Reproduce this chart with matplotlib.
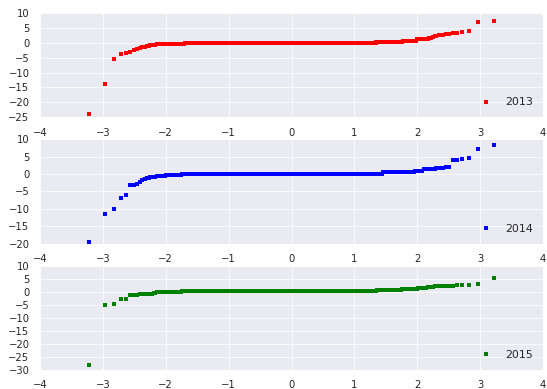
import matplotlib
matplotlib.use('Agg')
import matplotlib.pyplot as plt
from matplotlib.ticker import MultipleLocator
import seaborn as sns
import numpy as np
from statistics import NormalDist

# sorted sample values per year, given as (value, count) runs
runs_2013 = [(-24.0, 1), (-14.0, 1), (-5.6, 1), (-3.9, 1), (-3.6, 1), (-3.2, 1), (-2.5, 1),
             (-2.1, 1), (-1.9, 1), (-1.6, 1), (-1.3, 1), (-1.1, 1), (-1.0, 1), (-0.9, 1), (-0.8, 1),
             (-0.7, 2), (-0.6, 2), (-0.5, 6), (-0.3, 24), (0.0, 953), (0.2, 55), (0.7, 17),
             (1.1, 10), (1.4, 1), (1.7, 1), (1.9, 1), (2.1, 1), (2.3, 1),
             (2.5, 1), (2.6, 1), (2.7, 1), (2.8, 2),
             (3.3, 2), (3.7, 1), (4.0, 1), (6.9, 1), (7.2, 1)]

runs_2014 = [(-19.5, 1), (-11.6, 1), (-10.2, 1), (-6.8, 1), (-5.9, 1), (-3.3, 1), (-3.1, 1), (-2.8, 1),
             (-2.3, 1), (-1.8, 1), (-1.3, 1), (-1.2, 1), (-1.1, 1), (-1.0, 2), (-0.9, 2),
             (-0.6, 8), (-0.3, 19), (-0.1, 118), (0.1, 857), (0.5, 32), (0.7, 21), (1.0, 8),
             (1.4, 8), (1.8, 4), (2.1, 2),
             (3.9, 1), (4.1, 1), (4.3, 1), (4.6, 1), (7.1, 1), (8.3, 1)]

runs_2015 = [(-28.1, 1), (-5.0, 1), (-4.7, 1), (-2.8, 2),
             (-1.3, 3), (-0.8, 7), (-0.5, 2), (-0.2, 27), (0.1, 959), (0.5, 53), (1.0, 19),
             (1.5, 8), (1.8, 4), (2.3, 8),
             (2.4, 3), (2.8, 1), (5.3, 1)]

years = ['2013', '2014', '2015']
colors = ['r', 'b', 'g']
ylims = [(-25, 10), (-20, 10), (-30, 10)]


def expand(runs):
    return np.concatenate([np.full(c, v) for v, c in runs])


def theoretical_quantiles(n):
    # Filliben's order statistic medians, as used by scipy's probplot
    m = (np.arange(1, n + 1) - 0.3175) / (n + 0.365)
    m[-1] = 0.5 ** (1.0 / n)
    m[0] = 1 - m[-1]
    nd = NormalDist()
    return np.array([nd.inv_cdf(p) for p in m])


sns.set_style('darkgrid')
plt.rcParams['font.family'] = ['DejaVu Sans']
plt.rcParams['xtick.major.pad'] = 7
plt.rcParams['ytick.major.pad'] = 7

fig = plt.figure(figsize=(547 / 72, 389 / 72), dpi=72)
data = [runs_2013, runs_2014, runs_2015]

for i, runs in enumerate(data):
    ax = fig.add_subplot(3, 1, i + 1)
    y = expand(runs)
    x = theoretical_quantiles(len(y))
    ax.plot(x, y, 's', color=colors[i], markersize=3.4, markeredgewidth=0, label=years[i])
    ax.set_xlim(-4, 4)
    ax.set_ylim(*ylims[i])
    ax.xaxis.set_major_locator(MultipleLocator(1))
    ax.yaxis.set_major_locator(MultipleLocator(5))
    ax.tick_params(labelsize=10)
    ax.legend(loc='lower right', numpoints=1, fontsize=11, frameon=False)

plt.subplots_adjust(left=0.073, right=0.993, top=0.967, bottom=0.049, hspace=0.21)
plt.savefig('out.png', dpi=72)
